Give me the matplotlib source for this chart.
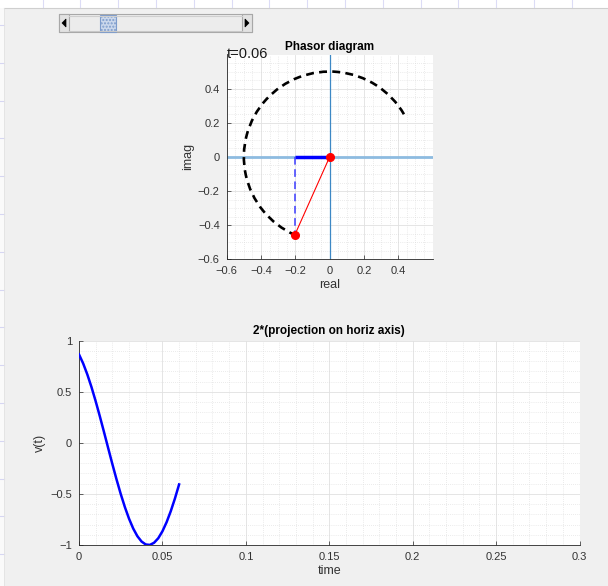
import numpy as np
import matplotlib.pyplot as plt
from matplotlib.patches import Rectangle, Polygon, Arc
from matplotlib.lines import Line2D
from matplotlib.ticker import MultipleLocator

plt.rcParams['font.family'] = ['Liberation Sans', 'DejaVu Sans']

# ---- data ----
t_now = 0.06
radius = 0.5                 # phasor length (half the peak of v(t))
arc_start_deg = 30           # phasor angle at t = 0
arc_end_deg = 246            # phasor angle at t = 0.06
tip_real = -0.203
tip_imag = -0.457

# v(t) samples, every 0.0025 s from 0 to 0.06
time_vals = [0.0, 0.0025, 0.005, 0.0075, 0.01, 0.0125, 0.015, 0.0175, 0.02,
             0.0225, 0.025, 0.0275, 0.03, 0.0325, 0.035, 0.0375, 0.04,
             0.0425, 0.045, 0.0475, 0.05, 0.0525, 0.055, 0.0575, 0.06]
v_vals = [0.866, 0.777, 0.669, 0.545, 0.407, 0.259, 0.105, -0.052, -0.208,
          -0.358, -0.500, -0.629, -0.743, -0.839, -0.914, -0.966, -0.995,
          -0.999, -0.978, -0.934, -0.866, -0.777, -0.669, -0.545, -0.407]

phasor_ticks = [-0.6, -0.4, -0.2, 0, 0.2, 0.4]
phasor_ticklabels = ['\u22120.6', '\u22120.4', '\u22120.2', '0', '0.2', '0.4']
time_ticks = [0, 0.05, 0.1, 0.15, 0.2, 0.25, 0.3]
time_ticklabels = ['0', '0.05', '0.1', '0.15', '0.2', '0.25', '0.3']
v_ticks = [-1, -0.5, 0, 0.5, 1]
v_ticklabels = ['\u22121', '\u22120.5', '0', '0.5', '1']

W, H = 608, 586
BG = '#f0f0f0'

fig = plt.figure(figsize=(W / 100, H / 100), dpi=100, facecolor=BG)


def px(x, y):
    """pixel (from top-left) -> figure fraction"""
    return x / W, 1 - y / H


def px_rect(x0, y0, x1, y1, **kw):
    fx, fy = px(x0, y1)
    r = Rectangle((fx, fy), (x1 - x0) / W, (y1 - y0) / H,
                  transform=fig.transFigure, **kw)
    fig.add_artist(r)
    return r


def px_line(xs, ys, **kw):
    fx = [x / W for x in xs]
    fy = [1 - y / H for y in ys]
    fig.add_artist(Line2D(fx, fy, transform=fig.transFigure, **kw))


# window chrome behind the figure panel
px_rect(0, 0, W, 8, facecolor='white', edgecolor='none', zorder=0)
px_rect(0, 8, 4, H, facecolor='#fafafa', edgecolor='none', zorder=0)
for k in range(15):
    x = 42.6 + 37.8 * k
    px_line([x, x], [0, 7.5], color='#dcdcf6', lw=0.8)
for k in range(15):
    y = 25 + 37.8 * k
    px_line([0, 3.5], [y, y], color='#d6d6f2', lw=0.8)
px_line([4, W], [8.3, 8.3], color='#cfcfcf', lw=0.8)
px_line([4, 4], [8.3, H], color='#e2e2e2', lw=0.6)

# slider
plt.rcParams['hatch.color'] = '#9fb3d3'
px_rect(59, 14, 252, 32, facecolor='#ececec', edgecolor='#a8a8a8', lw=0.8)
px_rect(59, 14, 69, 32, facecolor='#e2e2e2', edgecolor='#a8a8a8', lw=0.8)
px_rect(242, 14, 252, 32, facecolor='#e2e2e2', edgecolor='#a8a8a8', lw=0.8)
px_line([69, 242], [16, 16], color='#cfcfcf', lw=0.8)
px_line([69, 242], [30.5, 30.5], color='#c8c8c8', lw=0.8)
for pts in ([(62, 23), (66, 19), (66, 27)], [(249, 23), (245, 19), (245, 27)]):
    fig.add_artist(Polygon([px(x, y) for x, y in pts], closed=True,
                           transform=fig.transFigure, facecolor='black',
                           edgecolor='black', lw=0.5))
px_rect(100, 14.5, 116, 31.5, facecolor='#cbd8ec', edgecolor='#7d9ccc',
        lw=0.8, hatch='.....')


def style_axes(ax):
    ax.set_facecolor('white')
    for s in ('top', 'right'):
        ax.spines[s].set_visible(False)
    for s in ('left', 'bottom'):
        ax.spines[s].set_color('#262626')
        ax.spines[s].set_linewidth(0.6)
    ax.tick_params(which='major', direction='in', length=3, width=0.5,
                   color='#262626', labelcolor='#333333', labelsize=8, pad=5)
    ax.tick_params(which='minor', length=0)
    ax.grid(True, which='major', color='#e1e1e1', lw=0.6, ls='-')
    ax.grid(True, which='minor', color='#d8d8d8', lw=0.5, ls=(0, (1, 2)))
    ax.set_axisbelow(True)


# ---- phasor diagram ----
ax1 = fig.add_axes([226.7 / W, 1 - 259.3 / H, 205.9 / W, 204.8 / H])
style_axes(ax1)
ax1.set_xlim(-0.6, 0.6)
ax1.set_ylim(-0.6, 0.6)
ax1.set_xticks(phasor_ticks)
ax1.set_xticklabels(phasor_ticklabels)
ax1.set_yticks(phasor_ticks)
ax1.set_yticklabels(phasor_ticklabels)
ax1.xaxis.set_minor_locator(MultipleLocator(0.05))
ax1.yaxis.set_minor_locator(MultipleLocator(0.05))

ax1.axhline(0, color='#8dbbe0', lw=2, zorder=2)
ax1.axvline(0, color='#3d88c5', lw=0.9, zorder=2)

ax1.add_patch(Arc((0, 0), 2 * radius, 2 * radius, theta1=arc_start_deg,
                  theta2=arc_end_deg, color='black', lw=1.9,
                  ls=(0, (3, 2)), zorder=3))
ax1.plot([tip_real, 0], [0, 0], color='blue', lw=2.5, zorder=4,
         solid_capstyle='butt')
ax1.plot([tip_real, tip_real], [0, tip_imag], color='#3c3cff', lw=1.1,
         ls=(0, (5, 3)), zorder=4)
ax1.plot([0, tip_real], [0, tip_imag], color='red', lw=0.8, zorder=5)
ax1.plot([0, tip_real], [0, tip_imag], ls='none', marker='o', ms=5.5,
         color='red', zorder=6)

ax1.set_title('Phasor diagram', fontsize=8.5, fontweight='bold', pad=3.5)
ax1.set_xlabel('real', fontsize=9, color='#333333', labelpad=2)
ax1.set_ylabel('imag', fontsize=9, color='#333333', labelpad=3)
ax1.text(-0.6, 0.6, 't=%.2f' % t_now, fontsize=10.5, ha='left',
         va='center', color='#1a1a1a', zorder=10, clip_on=False)

# ---- time waveform ----
ax2 = fig.add_axes([79 / W, 1 - 545 / H, 500.5 / W, 204.3 / H])
style_axes(ax2)
ax2.set_xlim(0, 0.3)
ax2.set_ylim(-1, 1)
ax2.set_xticks(time_ticks)
ax2.set_xticklabels(time_ticklabels)
ax2.set_yticks(v_ticks)
ax2.set_yticklabels(v_ticklabels)
ax2.xaxis.set_minor_locator(MultipleLocator(0.01))
ax2.yaxis.set_minor_locator(MultipleLocator(0.1))
ax2.plot(time_vals, v_vals, color='blue', lw=1.8, zorder=4)
ax2.set_title('2*(projection on horiz axis)', fontsize=8.5,
              fontweight='bold', pad=5)
ax2.set_xlabel('time', fontsize=9, color='#333333', labelpad=2)
ax2.set_ylabel('v(t)', fontsize=9, color='#333333', labelpad=3)

fig.savefig('out.png', dpi=100, facecolor=BG)
